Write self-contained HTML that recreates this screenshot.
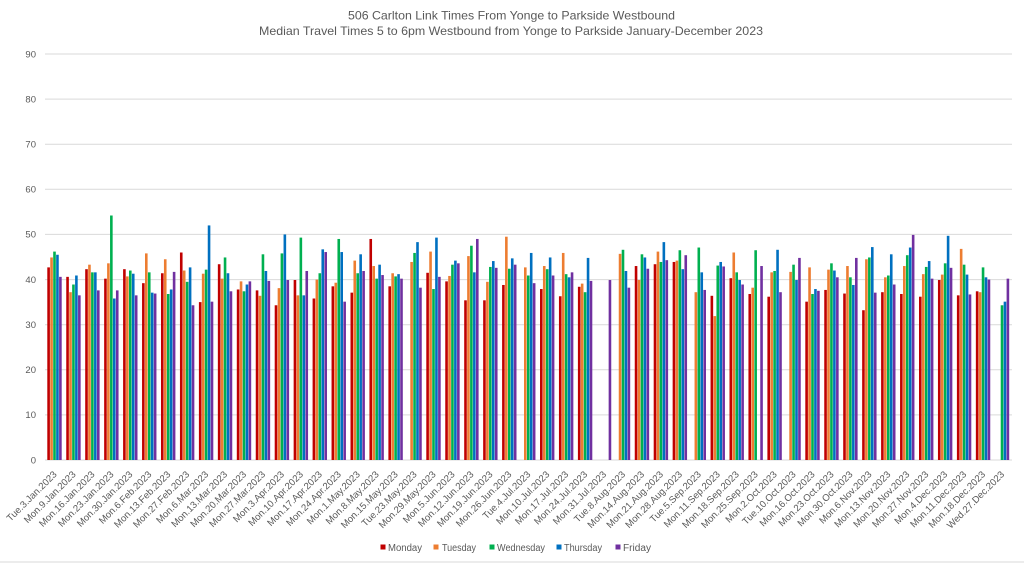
<!DOCTYPE html>
<html><head><meta charset="utf-8">
<style>
html,body{margin:0;padding:0;background:#fff;}
svg{display:block;font-family:"Liberation Sans",Arial,sans-serif;}
.a{fill:#c00000}.b{fill:#ed7d31}.c{fill:#00b050}.d{fill:#0070c0}.e{fill:#7030a0}
.t{fill:#595959}
.xl{font-size:9.6px;fill:#595959;text-anchor:end}
.yl{font-size:9.5px;fill:#595959;text-anchor:end}
</style></head>
<body>
<svg width="1024" height="564" viewBox="0 0 1024 564" xmlns="http://www.w3.org/2000/svg">
<rect width="1024" height="564" fill="#fff"/>
<text class="t" x="511.5" y="19.5" font-size="12" text-anchor="middle" textLength="327" lengthAdjust="spacingAndGlyphs">506 Carlton Link Times From Yonge to Parkside Westbound</text>
<text class="t" x="511" y="35" font-size="12" text-anchor="middle" textLength="504" lengthAdjust="spacingAndGlyphs">Median Travel Times 5 to 6pm Westbound from Yonge to Parkside January-December 2023</text>
<g stroke="#d9d9d9" stroke-width="1">
<line x1="45" x2="1012" y1="54" y2="54"/>
<line x1="45" x2="1012" y1="99.1" y2="99.1"/>
<line x1="45" x2="1012" y1="144.2" y2="144.2"/>
<line x1="45" x2="1012" y1="189.3" y2="189.3"/>
<line x1="45" x2="1012" y1="234.4" y2="234.4"/>
<line x1="45" x2="1012" y1="279.6" y2="279.6"/>
<line x1="45" x2="1012" y1="324.7" y2="324.7"/>
<line x1="45" x2="1012" y1="369.8" y2="369.8"/>
<line x1="45" x2="1012" y1="414.9" y2="414.9"/>
<line x1="45" x2="1012" y1="460" y2="460"/>
<line x1="0" x2="1024" y1="562" y2="562"/>
</g>
<g class="yl">
<text x="36" y="57.3">90</text>
<text x="36" y="102.4">80</text>
<text x="36" y="147.5">70</text>
<text x="36" y="192.6">60</text>
<text x="36" y="237.7">50</text>
<text x="36" y="282.9">40</text>
<text x="36" y="328">30</text>
<text x="36" y="373.1">20</text>
<text x="36" y="418.2">10</text>
<text x="36" y="463.3">0</text>
</g>
<g>
<g transform="translate(47.3,460) scale(1,-4.511)"><rect x="0" width="2.6" height="42.7" class="a"/><rect x="2.95" width="2.6" height="44.9" class="b"/><rect x="5.9" width="2.6" height="46.2" class="c"/><rect x="8.85" width="2.6" height="45.5" class="d"/><rect x="11.8" width="2.6" height="40.6" class="e"/></g>
<g transform="translate(66.25,460) scale(1,-4.511)"><rect x="0" width="2.6" height="40.6" class="a"/><rect x="2.95" width="2.6" height="37.2" class="b"/><rect x="5.9" width="2.6" height="38.9" class="c"/><rect x="8.85" width="2.6" height="40.9" class="d"/><rect x="11.8" width="2.6" height="36.5" class="e"/></g>
<g transform="translate(85.2,460) scale(1,-4.511)"><rect x="0" width="2.6" height="42.3" class="a"/><rect x="2.95" width="2.6" height="43.3" class="b"/><rect x="5.9" width="2.6" height="41.6" class="c"/><rect x="8.85" width="2.6" height="41.6" class="d"/><rect x="11.8" width="2.6" height="37.6" class="e"/></g>
<g transform="translate(104.15,460) scale(1,-4.511)"><rect x="0" width="2.6" height="40.2" class="a"/><rect x="2.95" width="2.6" height="43.6" class="b"/><rect x="5.9" width="2.6" height="54.2" class="c"/><rect x="8.85" width="2.6" height="35.8" class="d"/><rect x="11.8" width="2.6" height="37.6" class="e"/></g>
<g transform="translate(123.1,460) scale(1,-4.511)"><rect x="0" width="2.6" height="42.3" class="a"/><rect x="2.95" width="2.6" height="40.7" class="b"/><rect x="5.9" width="2.6" height="42.0" class="c"/><rect x="8.85" width="2.6" height="41.3" class="d"/><rect x="11.8" width="2.6" height="36.5" class="e"/></g>
<g transform="translate(142.05,460) scale(1,-4.511)"><rect x="0" width="2.6" height="39.2" class="a"/><rect x="2.95" width="2.6" height="45.8" class="b"/><rect x="5.9" width="2.6" height="41.6" class="c"/><rect x="8.85" width="2.6" height="37.1" class="d"/><rect x="11.8" width="2.6" height="36.9" class="e"/></g>
<g transform="translate(161,460) scale(1,-4.511)"><rect x="0" width="2.6" height="41.4" class="a"/><rect x="2.95" width="2.6" height="44.5" class="b"/><rect x="5.9" width="2.6" height="36.8" class="c"/><rect x="8.85" width="2.6" height="37.8" class="d"/><rect x="11.8" width="2.6" height="41.7" class="e"/></g>
<g transform="translate(179.95,460) scale(1,-4.511)"><rect x="0" width="2.6" height="46.0" class="a"/><rect x="2.95" width="2.6" height="42.0" class="b"/><rect x="5.9" width="2.6" height="39.5" class="c"/><rect x="8.85" width="2.6" height="42.7" class="d"/><rect x="11.8" width="2.6" height="34.3" class="e"/></g>
<g transform="translate(198.9,460) scale(1,-4.511)"><rect x="0" width="2.6" height="35.0" class="a"/><rect x="2.95" width="2.6" height="41.3" class="b"/><rect x="5.9" width="2.6" height="42.2" class="c"/><rect x="8.85" width="2.6" height="52.0" class="d"/><rect x="11.8" width="2.6" height="35.1" class="e"/></g>
<g transform="translate(217.85,460) scale(1,-4.511)"><rect x="0" width="2.6" height="43.4" class="a"/><rect x="2.95" width="2.6" height="40.2" class="b"/><rect x="5.9" width="2.6" height="44.9" class="c"/><rect x="8.85" width="2.6" height="41.4" class="d"/><rect x="11.8" width="2.6" height="37.4" class="e"/></g>
<g transform="translate(236.8,460) scale(1,-4.511)"><rect x="0" width="2.6" height="37.8" class="a"/><rect x="2.95" width="2.6" height="39.6" class="b"/><rect x="5.9" width="2.6" height="37.4" class="c"/><rect x="8.85" width="2.6" height="38.9" class="d"/><rect x="11.8" width="2.6" height="39.6" class="e"/></g>
<g transform="translate(255.75,460) scale(1,-4.511)"><rect x="0" width="2.6" height="37.6" class="a"/><rect x="2.95" width="2.6" height="36.4" class="b"/><rect x="5.9" width="2.6" height="45.6" class="c"/><rect x="8.85" width="2.6" height="41.9" class="d"/><rect x="11.8" width="2.6" height="39.7" class="e"/></g>
<g transform="translate(274.7,460) scale(1,-4.511)"><rect x="0" width="2.6" height="34.3" class="a"/><rect x="2.95" width="2.6" height="38.1" class="b"/><rect x="5.9" width="2.6" height="45.8" class="c"/><rect x="8.85" width="2.6" height="50.0" class="d"/><rect x="11.8" width="2.6" height="39.9" class="e"/></g>
<g transform="translate(293.65,460) scale(1,-4.511)"><rect x="0" width="2.6" height="39.9" class="a"/><rect x="2.95" width="2.6" height="36.5" class="b"/><rect x="5.9" width="2.6" height="49.3" class="c"/><rect x="8.85" width="2.6" height="36.5" class="d"/><rect x="11.8" width="2.6" height="41.9" class="e"/></g>
<g transform="translate(312.6,460) scale(1,-4.511)"><rect x="0" width="2.6" height="35.8" class="a"/><rect x="2.95" width="2.6" height="40.0" class="b"/><rect x="5.9" width="2.6" height="41.4" class="c"/><rect x="8.85" width="2.6" height="46.7" class="d"/><rect x="11.8" width="2.6" height="46.1" class="e"/></g>
<g transform="translate(331.55,460) scale(1,-4.511)"><rect x="0" width="2.6" height="38.5" class="a"/><rect x="2.95" width="2.6" height="39.3" class="b"/><rect x="5.9" width="2.6" height="49.0" class="c"/><rect x="8.85" width="2.6" height="46.1" class="d"/><rect x="11.8" width="2.6" height="35.1" class="e"/></g>
<g transform="translate(350.5,460) scale(1,-4.511)"><rect x="0" width="2.6" height="37.1" class="a"/><rect x="2.95" width="2.6" height="44.2" class="b"/><rect x="5.9" width="2.6" height="41.4" class="c"/><rect x="8.85" width="2.6" height="45.6" class="d"/><rect x="11.8" width="2.6" height="41.9" class="e"/></g>
<g transform="translate(369.45,460) scale(1,-4.511)"><rect x="0" width="2.6" height="49.0" class="a"/><rect x="2.95" width="2.6" height="43.0" class="b"/><rect x="5.9" width="2.6" height="40.2" class="c"/><rect x="8.85" width="2.6" height="43.3" class="d"/><rect x="11.8" width="2.6" height="41.0" class="e"/></g>
<g transform="translate(388.4,460) scale(1,-4.511)"><rect x="0" width="2.6" height="38.5" class="a"/><rect x="2.95" width="2.6" height="41.4" class="b"/><rect x="5.9" width="2.6" height="40.7" class="c"/><rect x="8.85" width="2.6" height="41.2" class="d"/><rect x="11.8" width="2.6" height="40.2" class="e"/></g>
<g transform="translate(407.35,460) scale(1,-4.511)"><rect x="2.95" width="2.6" height="43.9" class="b"/><rect x="5.9" width="2.6" height="45.9" class="c"/><rect x="8.85" width="2.6" height="48.3" class="d"/><rect x="11.8" width="2.6" height="38.2" class="e"/></g>
<g transform="translate(426.3,460) scale(1,-4.511)"><rect x="0" width="2.6" height="41.5" class="a"/><rect x="2.95" width="2.6" height="46.2" class="b"/><rect x="5.9" width="2.6" height="37.9" class="c"/><rect x="8.85" width="2.6" height="49.3" class="d"/><rect x="11.8" width="2.6" height="40.6" class="e"/></g>
<g transform="translate(445.25,460) scale(1,-4.511)"><rect x="0" width="2.6" height="39.6" class="a"/><rect x="2.95" width="2.6" height="40.8" class="b"/><rect x="5.9" width="2.6" height="43.3" class="c"/><rect x="8.85" width="2.6" height="44.2" class="d"/><rect x="11.8" width="2.6" height="43.6" class="e"/></g>
<g transform="translate(464.2,460) scale(1,-4.511)"><rect x="0" width="2.6" height="35.4" class="a"/><rect x="2.95" width="2.6" height="45.2" class="b"/><rect x="5.9" width="2.6" height="47.5" class="c"/><rect x="8.85" width="2.6" height="41.6" class="d"/><rect x="11.8" width="2.6" height="49.0" class="e"/></g>
<g transform="translate(483.15,460) scale(1,-4.511)"><rect x="0" width="2.6" height="35.4" class="a"/><rect x="2.95" width="2.6" height="39.5" class="b"/><rect x="5.9" width="2.6" height="42.8" class="c"/><rect x="8.85" width="2.6" height="44.1" class="d"/><rect x="11.8" width="2.6" height="42.6" class="e"/></g>
<g transform="translate(502.1,460) scale(1,-4.511)"><rect x="0" width="2.6" height="38.8" class="a"/><rect x="2.95" width="2.6" height="49.5" class="b"/><rect x="5.9" width="2.6" height="42.4" class="c"/><rect x="8.85" width="2.6" height="44.7" class="d"/><rect x="11.8" width="2.6" height="43.3" class="e"/></g>
<g transform="translate(521.05,460) scale(1,-4.511)"><rect x="2.95" width="2.6" height="42.7" class="b"/><rect x="5.9" width="2.6" height="40.9" class="c"/><rect x="8.85" width="2.6" height="45.9" class="d"/><rect x="11.8" width="2.6" height="39.2" class="e"/></g>
<g transform="translate(540,460) scale(1,-4.511)"><rect x="0" width="2.6" height="37.9" class="a"/><rect x="2.95" width="2.6" height="43.0" class="b"/><rect x="5.9" width="2.6" height="42.3" class="c"/><rect x="8.85" width="2.6" height="44.9" class="d"/><rect x="11.8" width="2.6" height="40.9" class="e"/></g>
<g transform="translate(558.95,460) scale(1,-4.511)"><rect x="0" width="2.6" height="36.3" class="a"/><rect x="2.95" width="2.6" height="45.9" class="b"/><rect x="5.9" width="2.6" height="41.2" class="c"/><rect x="8.85" width="2.6" height="40.5" class="d"/><rect x="11.8" width="2.6" height="41.6" class="e"/></g>
<g transform="translate(577.9,460) scale(1,-4.511)"><rect x="0" width="2.6" height="38.4" class="a"/><rect x="2.95" width="2.6" height="39.1" class="b"/><rect x="5.9" width="2.6" height="37.2" class="c"/><rect x="8.85" width="2.6" height="44.8" class="d"/><rect x="11.8" width="2.6" height="39.7" class="e"/></g>
<g transform="translate(596.85,460) scale(1,-4.511)"><rect x="11.8" width="2.6" height="39.9" class="e"/></g>
<g transform="translate(615.8,460) scale(1,-4.511)"><rect x="2.95" width="2.6" height="45.7" class="b"/><rect x="5.9" width="2.6" height="46.6" class="c"/><rect x="8.85" width="2.6" height="41.9" class="d"/><rect x="11.8" width="2.6" height="38.2" class="e"/></g>
<g transform="translate(634.75,460) scale(1,-4.511)"><rect x="0" width="2.6" height="43.0" class="a"/><rect x="2.95" width="2.6" height="39.9" class="b"/><rect x="5.9" width="2.6" height="45.6" class="c"/><rect x="8.85" width="2.6" height="44.9" class="d"/><rect x="11.8" width="2.6" height="42.4" class="e"/></g>
<g transform="translate(653.7,460) scale(1,-4.511)"><rect x="0" width="2.6" height="43.4" class="a"/><rect x="2.95" width="2.6" height="46.2" class="b"/><rect x="5.9" width="2.6" height="43.9" class="c"/><rect x="8.85" width="2.6" height="48.3" class="d"/><rect x="11.8" width="2.6" height="44.3" class="e"/></g>
<g transform="translate(672.65,460) scale(1,-4.511)"><rect x="0" width="2.6" height="43.9" class="a"/><rect x="2.95" width="2.6" height="44.2" class="b"/><rect x="5.9" width="2.6" height="46.5" class="c"/><rect x="8.85" width="2.6" height="42.3" class="d"/><rect x="11.8" width="2.6" height="45.4" class="e"/></g>
<g transform="translate(691.6,460) scale(1,-4.511)"><rect x="2.95" width="2.6" height="37.2" class="b"/><rect x="5.9" width="2.6" height="47.1" class="c"/><rect x="8.85" width="2.6" height="41.6" class="d"/><rect x="11.8" width="2.6" height="37.7" class="e"/></g>
<g transform="translate(710.55,460) scale(1,-4.511)"><rect x="0" width="2.6" height="36.4" class="a"/><rect x="2.95" width="2.6" height="31.9" class="b"/><rect x="5.9" width="2.6" height="43.1" class="c"/><rect x="8.85" width="2.6" height="43.9" class="d"/><rect x="11.8" width="2.6" height="42.9" class="e"/></g>
<g transform="translate(729.5,460) scale(1,-4.511)"><rect x="0" width="2.6" height="40.3" class="a"/><rect x="2.95" width="2.6" height="46.0" class="b"/><rect x="5.9" width="2.6" height="41.6" class="c"/><rect x="8.85" width="2.6" height="39.9" class="d"/><rect x="11.8" width="2.6" height="38.9" class="e"/></g>
<g transform="translate(748.45,460) scale(1,-4.511)"><rect x="0" width="2.6" height="36.8" class="a"/><rect x="2.95" width="2.6" height="38.2" class="b"/><rect x="5.9" width="2.6" height="46.5" class="c"/><rect x="11.8" width="2.6" height="43.0" class="e"/></g>
<g transform="translate(767.4,460) scale(1,-4.511)"><rect x="0" width="2.6" height="36.2" class="a"/><rect x="2.95" width="2.6" height="41.6" class="b"/><rect x="5.9" width="2.6" height="41.9" class="c"/><rect x="8.85" width="2.6" height="46.6" class="d"/><rect x="11.8" width="2.6" height="37.2" class="e"/></g>
<g transform="translate(786.35,460) scale(1,-4.511)"><rect x="2.95" width="2.6" height="41.7" class="b"/><rect x="5.9" width="2.6" height="43.3" class="c"/><rect x="8.85" width="2.6" height="39.9" class="d"/><rect x="11.8" width="2.6" height="44.8" class="e"/></g>
<g transform="translate(805.3,460) scale(1,-4.511)"><rect x="0" width="2.6" height="35.1" class="a"/><rect x="2.95" width="2.6" height="42.7" class="b"/><rect x="5.9" width="2.6" height="36.8" class="c"/><rect x="8.85" width="2.6" height="37.9" class="d"/><rect x="11.8" width="2.6" height="37.5" class="e"/></g>
<g transform="translate(824.25,460) scale(1,-4.511)"><rect x="0" width="2.6" height="37.7" class="a"/><rect x="2.95" width="2.6" height="42.2" class="b"/><rect x="5.9" width="2.6" height="43.6" class="c"/><rect x="8.85" width="2.6" height="42.0" class="d"/><rect x="11.8" width="2.6" height="40.5" class="e"/></g>
<g transform="translate(843.2,460) scale(1,-4.511)"><rect x="0" width="2.6" height="36.9" class="a"/><rect x="2.95" width="2.6" height="43.0" class="b"/><rect x="5.9" width="2.6" height="40.5" class="c"/><rect x="8.85" width="2.6" height="38.8" class="d"/><rect x="11.8" width="2.6" height="44.8" class="e"/></g>
<g transform="translate(862.15,460) scale(1,-4.511)"><rect x="0" width="2.6" height="33.2" class="a"/><rect x="2.95" width="2.6" height="44.5" class="b"/><rect x="5.9" width="2.6" height="44.9" class="c"/><rect x="8.85" width="2.6" height="47.2" class="d"/><rect x="11.8" width="2.6" height="37.1" class="e"/></g>
<g transform="translate(881.1,460) scale(1,-4.511)"><rect x="0" width="2.6" height="37.2" class="a"/><rect x="2.95" width="2.6" height="40.5" class="b"/><rect x="5.9" width="2.6" height="40.9" class="c"/><rect x="8.85" width="2.6" height="45.6" class="d"/><rect x="11.8" width="2.6" height="38.9" class="e"/></g>
<g transform="translate(900.05,460) scale(1,-4.511)"><rect x="0" width="2.6" height="36.8" class="a"/><rect x="2.95" width="2.6" height="43.0" class="b"/><rect x="5.9" width="2.6" height="45.4" class="c"/><rect x="8.85" width="2.6" height="47.1" class="d"/><rect x="11.8" width="2.6" height="49.9" class="e"/></g>
<g transform="translate(919,460) scale(1,-4.511)"><rect x="0" width="2.6" height="36.2" class="a"/><rect x="2.95" width="2.6" height="41.2" class="b"/><rect x="5.9" width="2.6" height="42.8" class="c"/><rect x="8.85" width="2.6" height="44.1" class="d"/><rect x="11.8" width="2.6" height="40.2" class="e"/></g>
<g transform="translate(937.95,460) scale(1,-4.511)"><rect x="0" width="2.6" height="39.9" class="a"/><rect x="2.95" width="2.6" height="41.1" class="b"/><rect x="5.9" width="2.6" height="43.6" class="c"/><rect x="8.85" width="2.6" height="49.7" class="d"/><rect x="11.8" width="2.6" height="42.6" class="e"/></g>
<g transform="translate(956.9,460) scale(1,-4.511)"><rect x="0" width="2.6" height="36.5" class="a"/><rect x="2.95" width="2.6" height="46.8" class="b"/><rect x="5.9" width="2.6" height="43.3" class="c"/><rect x="8.85" width="2.6" height="41.1" class="d"/><rect x="11.8" width="2.6" height="36.7" class="e"/></g>
<g transform="translate(975.85,460) scale(1,-4.511)"><rect x="0" width="2.6" height="37.4" class="a"/><rect x="2.95" width="2.6" height="37.2" class="b"/><rect x="5.9" width="2.6" height="42.7" class="c"/><rect x="8.85" width="2.6" height="40.5" class="d"/><rect x="11.8" width="2.6" height="40.0" class="e"/></g>
<g transform="translate(994.8,460) scale(1,-4.511)"><rect x="5.9" width="2.6" height="34.3" class="c"/><rect x="8.85" width="2.6" height="35.1" class="d"/><rect x="11.8" width="2.6" height="40.2" class="e"/></g>
</g>
<g class="xl">
<text transform="translate(57.4,475) rotate(-45)">Tue.3.Jan.2023</text>
<text transform="translate(76.35,475) rotate(-45)">Mon.9.Jan.2023</text>
<text transform="translate(95.3,475) rotate(-45)">Mon.16.Jan.2023</text>
<text transform="translate(114.25,475) rotate(-45)">Mon.23.Jan.2023</text>
<text transform="translate(133.2,475) rotate(-45)">Mon.30.Jan.2023</text>
<text transform="translate(152.15,475) rotate(-45)">Mon.6.Feb.2023</text>
<text transform="translate(171.1,475) rotate(-45)">Mon.13.Feb.2023</text>
<text transform="translate(190.05,475) rotate(-45)">Mon.27.Feb.2023</text>
<text transform="translate(209,475) rotate(-45)">Mon.6.Mar.2023</text>
<text transform="translate(227.95,475) rotate(-45)">Mon.13.Mar.2023</text>
<text transform="translate(246.9,475) rotate(-45)">Mon.20.Mar.2023</text>
<text transform="translate(265.85,475) rotate(-45)">Mon.27.Mar.2023</text>
<text transform="translate(284.8,475) rotate(-45)">Mon.3.Apr.2023</text>
<text transform="translate(303.75,475) rotate(-45)">Mon.10.Apr.2023</text>
<text transform="translate(322.7,475) rotate(-45)">Mon.17.Apr.2023</text>
<text transform="translate(341.65,475) rotate(-45)">Mon.24.Apr.2023</text>
<text transform="translate(360.6,475) rotate(-45)">Mon.1.May.2023</text>
<text transform="translate(379.55,475) rotate(-45)">Mon.8.May.2023</text>
<text transform="translate(398.5,475) rotate(-45)">Mon.15.May.2023</text>
<text transform="translate(417.45,475) rotate(-45)">Tue.23.May.2023</text>
<text transform="translate(436.4,475) rotate(-45)">Mon.29.May.2023</text>
<text transform="translate(455.35,475) rotate(-45)">Mon.5.Jun.2023</text>
<text transform="translate(474.3,475) rotate(-45)">Mon.12.Jun.2023</text>
<text transform="translate(493.25,475) rotate(-45)">Mon.19.Jun.2023</text>
<text transform="translate(512.2,475) rotate(-45)">Mon.26.Jun.2023</text>
<text transform="translate(531.15,475) rotate(-45)">Tue.4.Jul.2023</text>
<text transform="translate(550.1,475) rotate(-45)">Mon.10.Jul.2023</text>
<text transform="translate(569.05,475) rotate(-45)">Mon.17.Jul.2023</text>
<text transform="translate(588,475) rotate(-45)">Mon.24.Jul.2023</text>
<text transform="translate(606.95,475) rotate(-45)">Mon.31.Jul.2023</text>
<text transform="translate(625.9,475) rotate(-45)">Tue.8.Aug.2023</text>
<text transform="translate(644.85,475) rotate(-45)">Mon.14.Aug.2023</text>
<text transform="translate(663.8,475) rotate(-45)">Mon.21.Aug.2023</text>
<text transform="translate(682.75,475) rotate(-45)">Mon.28.Aug.2023</text>
<text transform="translate(701.7,475) rotate(-45)">Tue.5.Sep.2023</text>
<text transform="translate(720.65,475) rotate(-45)">Mon.11.Sep.2023</text>
<text transform="translate(739.6,475) rotate(-45)">Mon.18.Sep.2023</text>
<text transform="translate(758.55,475) rotate(-45)">Mon.25.Sep.2023</text>
<text transform="translate(777.5,475) rotate(-45)">Mon.2.Oct.2023</text>
<text transform="translate(796.45,475) rotate(-45)">Tue.10.Oct.2023</text>
<text transform="translate(815.4,475) rotate(-45)">Mon.16.Oct.2023</text>
<text transform="translate(834.35,475) rotate(-45)">Mon.23.Oct.2023</text>
<text transform="translate(853.3,475) rotate(-45)">Mon.30.Oct.2023</text>
<text transform="translate(872.25,475) rotate(-45)">Mon.6.Nov.2023</text>
<text transform="translate(891.2,475) rotate(-45)">Mon.13.Nov.2023</text>
<text transform="translate(910.15,475) rotate(-45)">Mon.20.Nov.2023</text>
<text transform="translate(929.1,475) rotate(-45)">Mon.27.Nov.2023</text>
<text transform="translate(948.05,475) rotate(-45)">Mon.4.Dec.2023</text>
<text transform="translate(967,475) rotate(-45)">Mon.11.Dec.2023</text>
<text transform="translate(985.95,475) rotate(-45)">Mon.18.Dec.2023</text>
<text transform="translate(1004.9,475) rotate(-45)">Wed.27.Dec.2023</text>
</g>
<g font-size="10" class="t">
<rect x="380.5" y="544.5" width="5" height="5" class="a"/>
<text x="388" y="551" textLength="34" lengthAdjust="spacingAndGlyphs" fill="#595959">Monday</text>
<rect x="433.5" y="544.5" width="5" height="5" class="b"/>
<text x="442" y="551" textLength="34" lengthAdjust="spacingAndGlyphs" fill="#595959">Tuesday</text>
<rect x="489.5" y="544.5" width="5" height="5" class="c"/>
<text x="497" y="551" textLength="48" lengthAdjust="spacingAndGlyphs" fill="#595959">Wednesday</text>
<rect x="556.5" y="544.5" width="5" height="5" class="d"/>
<text x="564" y="551" textLength="38" lengthAdjust="spacingAndGlyphs" fill="#595959">Thursday</text>
<rect x="615.5" y="544.5" width="5" height="5" class="e"/>
<text x="623" y="551" textLength="28" lengthAdjust="spacingAndGlyphs" fill="#595959">Friday</text>
</g>
</svg>
</body></html>
